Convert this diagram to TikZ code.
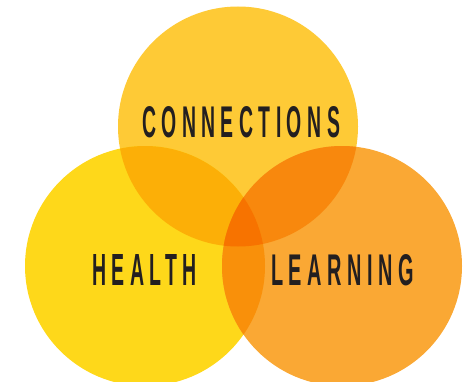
\documentclass[tikz,border=0pt]{standalone}
\usepackage{fontspec}
\usepackage{graphicx}
\usepackage{xcolor}
\newfontfamily\labelfont{Liberation Sans}[LetterSpace=28]
\definecolor{ink}{HTML}{231F20}
\definecolor{topfill}{HTML}{FECA36}
\definecolor{leftfill}{HTML}{FED81A}
\definecolor{rightfill}{HTML}{FAA834}
\definecolor{tlfill}{HTML}{FCAF07}
\definecolor{trfill}{HTML}{F8880D}
\definecolor{lrfill}{HTML}{F9900A}
\definecolor{midfill}{HTML}{F77300}
\tikzset{
  ring/.style={circle, inner sep=0pt, minimum size=240pt},
  word/.style={text=ink, inner sep=0pt}
}
\newcommand{\vennword}[2]{\resizebox{#1pt}{31pt}{\labelfont\bfseries\fontsize{43}{43}\selectfont #2}}

\begin{document}
\begin{tikzpicture}[x=1pt, y=1pt]
  \useasboundingbox (0,0) rectangle (466,381);
  \clip (0,0) rectangle (466,381);

  % the three circles
  \node[ring, fill=topfill] (top) at (238,254.5) {};
  \node[ring, fill=leftfill] (left) at (145,115) {};
  \node[ring, fill=rightfill] (right) at (342,115) {};

  % pairwise overlaps
  \begin{scope}
    \clip (top.center) circle[radius=120];
    \fill[tlfill] (left.center) circle[radius=120];
    \fill[trfill] (right.center) circle[radius=120];
  \end{scope}
  \begin{scope}
    \clip (left.center) circle[radius=120];
    \fill[lrfill] (right.center) circle[radius=120];
    \clip (right.center) circle[radius=120];
    \fill[midfill] (top.center) circle[radius=120];
  \end{scope}

  % labels
  \node[word] (connections) at (241,258.5) {\vennword{198}{CONNECTIONS}};
  \node[word] (health) at (144.5,111) {\vennword{105}{HEALTH}};
  \node[word] (learning) at (342.5,111) {\vennword{143}{LEARNING}};
\end{tikzpicture}
\end{document}
